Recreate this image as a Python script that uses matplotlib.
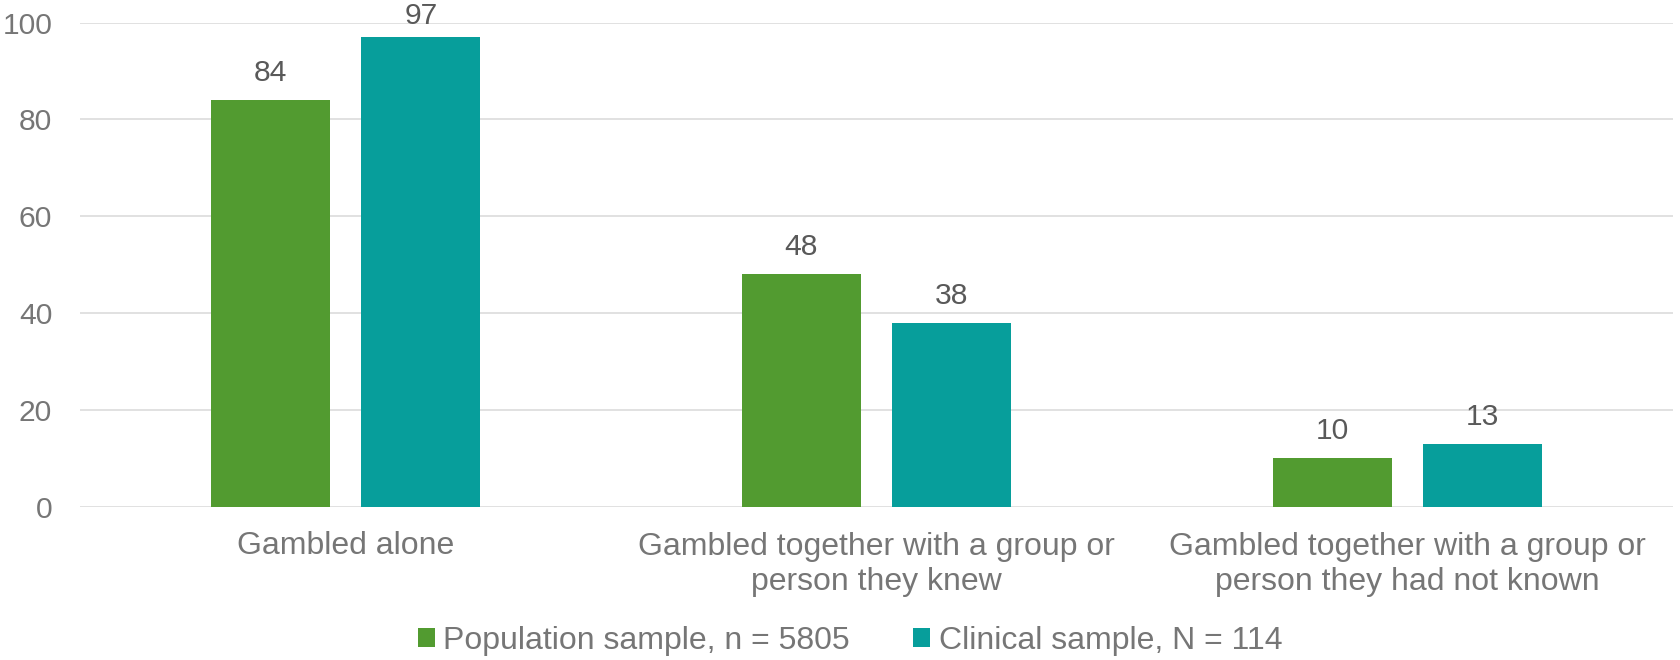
import matplotlib
matplotlib.use("Agg")
import matplotlib.pyplot as plt
import numpy as np
from matplotlib.patches import Patch

categories = [
    "Gambled alone",
    "Gambled together with a group or\nperson they knew",
    "Gambled together with a group or\nperson they had not known",
]
population = [84, 48, 10]
clinical = [97, 38, 13]
series_names = ["Population sample, n = 5805", "Clinical sample, N = 114"]
y_ticks = [0, 20, 40, 60, 80, 100]

GREEN = "#529B30"
TEAL = "#079E9B"
GRID = "#D9D9D9"
AXIS_TEXT = "#767676"
LABEL_TEXT = "#595959"

plt.rcParams["font.family"] = ["Liberation Sans", "DejaVu Sans"]

fig = plt.figure(figsize=(16.8, 6.6), dpi=100)
ax = fig.add_axes([80 / 1680, 1 - 506.5 / 660, 1593 / 1680, 484 / 660])

x = np.arange(len(categories))
width = 0.224
offset = 0.142

bars_a = ax.bar(x - offset, population, width, color=GREEN, zorder=3)
bars_b = ax.bar(x + offset, clinical, width, color=TEAL, zorder=3)

# value labels above each bar, kept inside the top of the figure
for bars, vals in ((bars_a, population), (bars_b, clinical)):
    for rect, v in zip(bars, vals):
        y = min(v + 3.9, 99.7)
        ax.text(rect.get_x() + rect.get_width() / 2, y, f"{v}",
                ha="center", va="baseline", fontsize=21.6,
                color=LABEL_TEXT, clip_on=False, zorder=4)

ax.set_xlim(-0.5, 2.5)
ax.set_ylim(0, 100)
ax.set_yticks(y_ticks)
ax.set_yticklabels([str(t) for t in y_ticks])
ax.set_xticks(x)
ax.set_xticklabels(categories, linespacing=1.23)

ax.tick_params(axis="y", length=0, pad=20, labelsize=21.6, labelcolor=AXIS_TEXT)
ax.tick_params(axis="x", length=0, pad=18, labelsize=23, labelcolor=AXIS_TEXT)

ax.grid(axis="y", color=GRID, linewidth=1.1, zorder=0)
ax.set_axisbelow(True)
for side in ("top", "right", "left", "bottom"):
    ax.spines[side].set_visible(False)

handles = [Patch(facecolor=GREEN, edgecolor="none"),
           Patch(facecolor=TEAL, edgecolor="none")]
leg = fig.legend(handles, series_names, loc="center",
                 bbox_to_anchor=(850 / 1680, 1 - 641 / 660), ncol=2,
                 frameon=False, fontsize=23, handlelength=0.53,
                 handleheight=0.53, handletextpad=0.26, columnspacing=2.0,
                 borderpad=0, borderaxespad=0)
for t in leg.get_texts():
    t.set_color(AXIS_TEXT)

fig.savefig("out.png", dpi=100, facecolor="white")
